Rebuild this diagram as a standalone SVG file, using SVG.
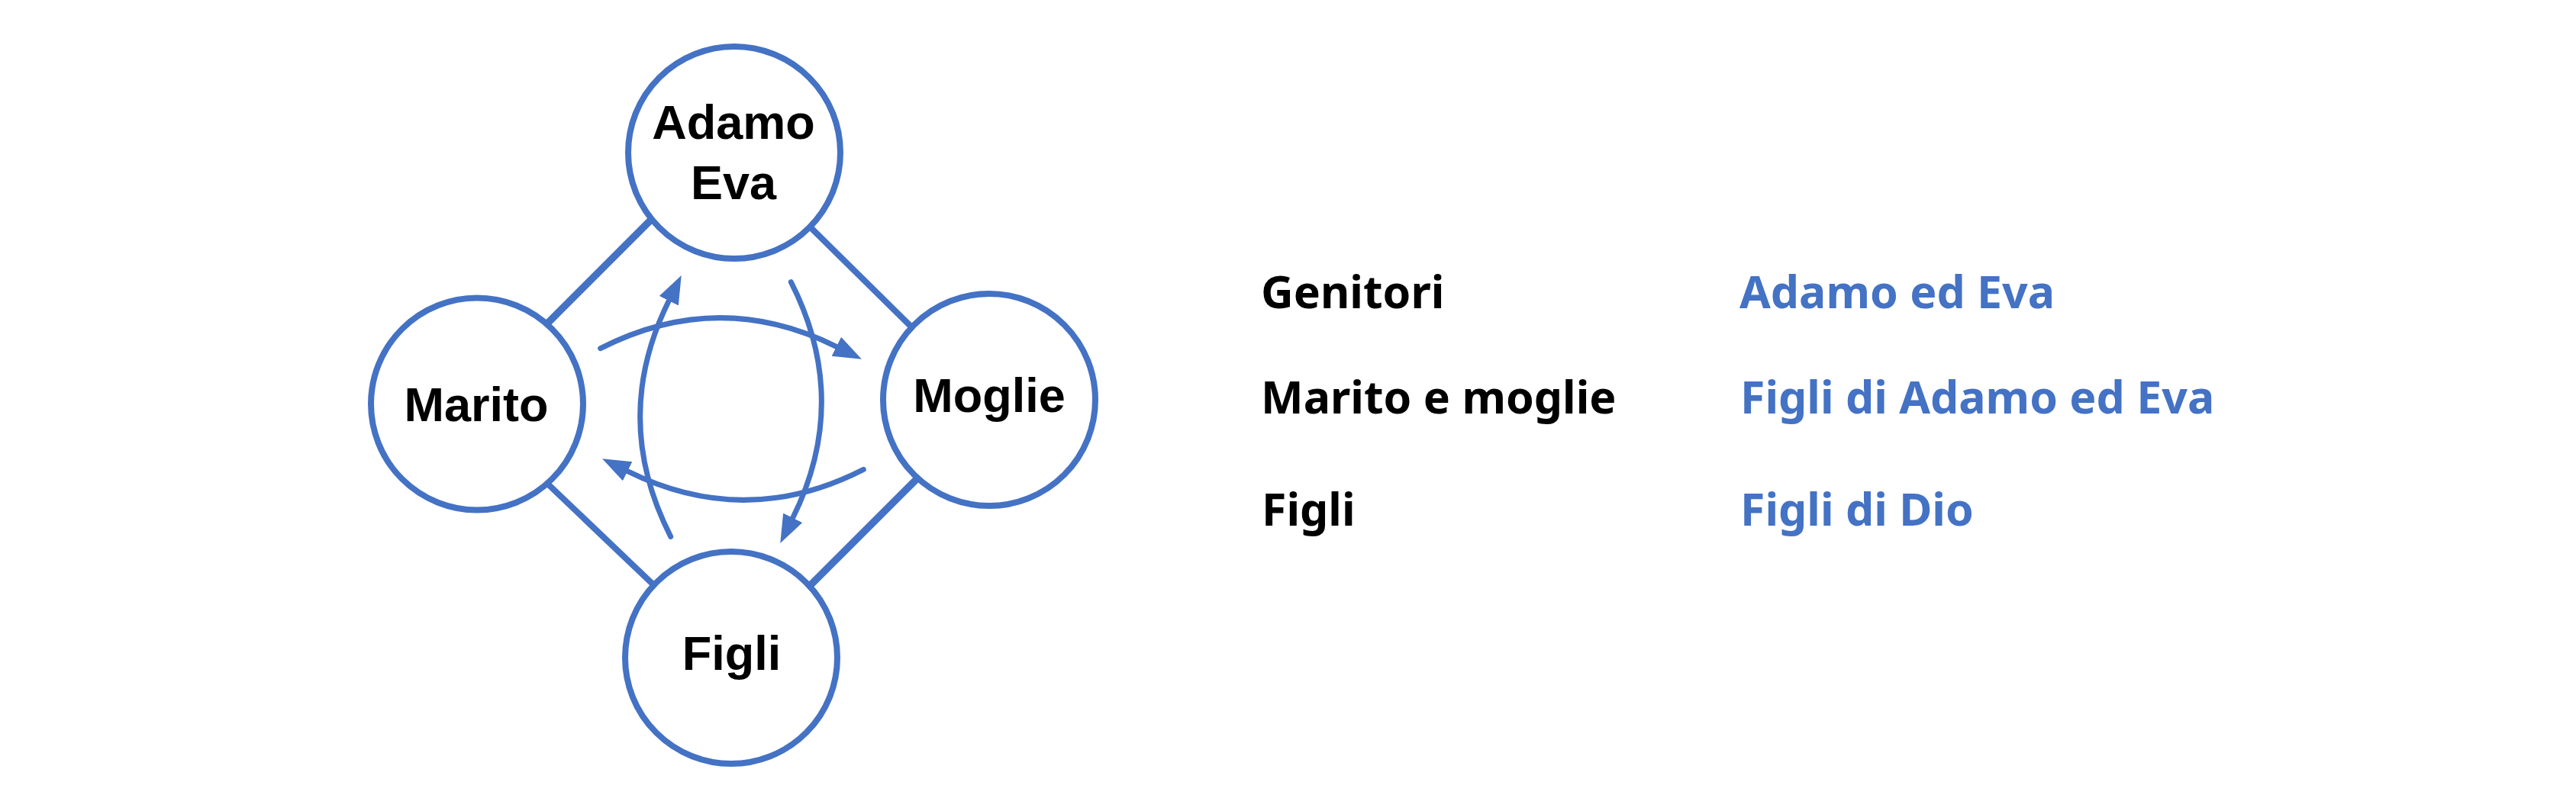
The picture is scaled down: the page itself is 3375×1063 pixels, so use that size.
<svg xmlns="http://www.w3.org/2000/svg" width="3375" height="1063" viewBox="0 0 3375 1063">
<style>
.node circle{fill:#fff;stroke:#4472C4;stroke-width:8}
.nl{font-family:"Liberation Sans",Arial,sans-serif;font-weight:bold;font-size:63px;fill:#000;text-anchor:middle}
.edge{stroke:#4472C4;stroke-width:8;stroke-linecap:butt;fill:none}
.edge.thick{stroke-width:9.5}
.arc{stroke:#4472C4;stroke-width:7;stroke-linecap:round;fill:none;marker-end:url(#ah)}
.lab{font-family:"Noto Sans","Open Sans",sans-serif;font-weight:bold;font-size:59px}
.k{fill:#000}
.v{fill:#4472C4}
</style>
<defs>
<marker id="ah" markerUnits="userSpaceOnUse" viewBox="0 -15 40 30" markerWidth="40" markerHeight="30" refX="0" refY="0" orient="auto">
<path d="M0,-14 L37,0 L0,14 z" fill="#4472C4"/>
</marker>
</defs>
<rect width="3375" height="1063" fill="#fff"/>
<g id="connectors">
<line class="edge thick" x1="858.8" y1="282.2" x2="712.2" y2="428.8"/>
<line class="edge" x1="1056.2" y1="292.3" x2="1201.1" y2="435.4"/>
<line class="edge" x1="710.7" y1="627.7" x2="860.2" y2="770.3"/>
<line class="edge thick" x1="1206.5" y1="622.4" x2="1055.1" y2="773.7"/>
<path class="arc" transform="translate(959,536)" d="M -172.3 -79.3 Q -17.75 -158.2 136.8 -81.7"/>
<path class="arc" transform="translate(959,536) rotate(180)" d="M -172.3 -79.3 Q -17.75 -158.2 136.8 -81.7"/>
<path class="arc" transform="translate(958,531) rotate(-90)" d="M -172.3 -79.3 Q -17.75 -158.2 136.8 -81.7"/>
<path class="arc" transform="translate(957,542) rotate(90)" d="M -172.3 -79.3 Q -17.75 -158.2 136.8 -81.7"/>
</g>
<g id="node-adamo-eva" class="node">
<circle cx="962" cy="200" r="139"/>
<text class="nl" x="961" y="182">Adamo</text>
<text class="nl" x="961" y="261">Eva</text>
</g>
<g id="node-marito" class="node">
<circle cx="625" cy="529.5" r="139"/>
<text class="nl" x="624" y="552">Marito</text>
</g>
<g id="node-moglie" class="node">
<circle cx="1296" cy="524" r="139"/>
<text class="nl" x="1296" y="540">Moglie</text>
</g>
<g id="node-figli" class="node">
<circle cx="958" cy="862" r="139"/>
<text class="nl" x="958.5" y="878">Figli</text>
</g>
<g id="legend">
<text class="lab k" x="1652" y="404">Genitori</text>
<text class="lab k" x="1652" y="542">Marito e moglie</text>
<text class="lab k" x="1653" y="689">Figli</text>
<text class="lab v" x="2279" y="404">Adamo ed Eva</text>
<text class="lab v" x="2280" y="542">Figli di Adamo ed Eva</text>
<text class="lab v" x="2280" y="689">Figli di Dio</text>
</g>
</svg>
